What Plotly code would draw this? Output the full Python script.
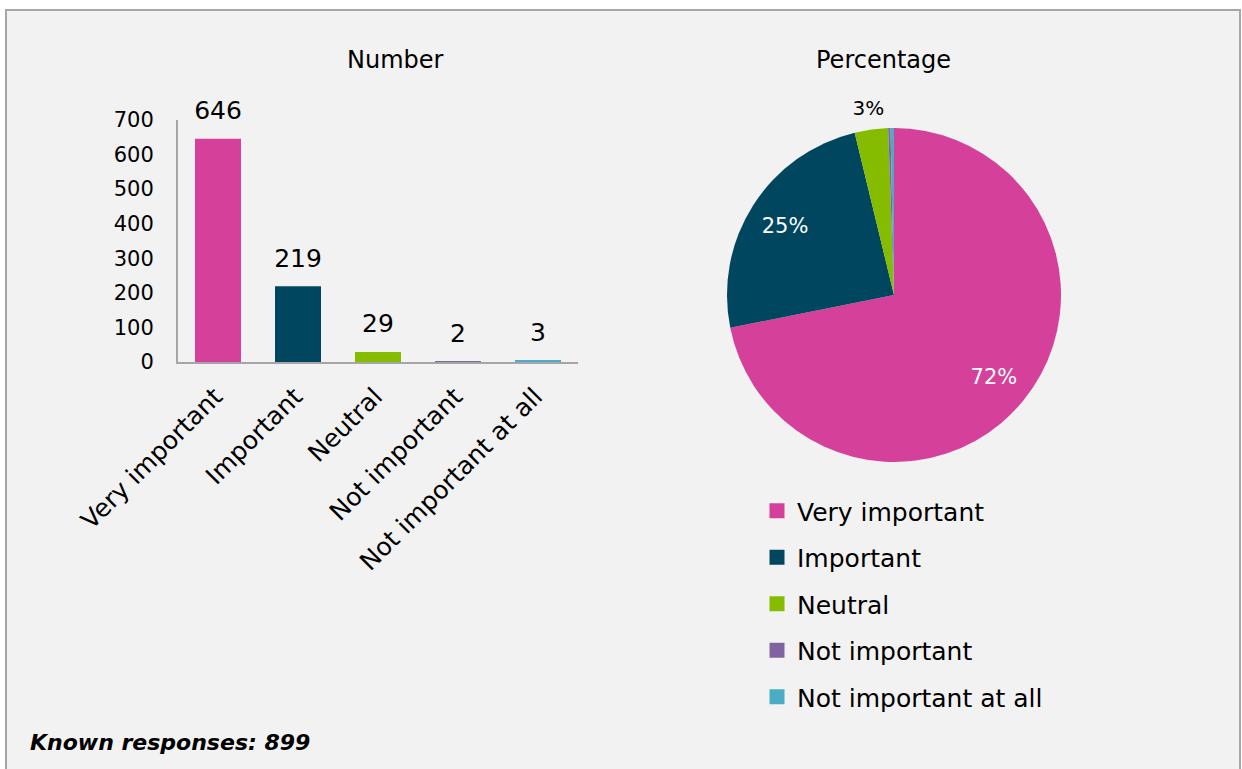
import plotly.graph_objects as go

categories = ["Very important", "Important", "Neutral", "Not important", "Not important at all"]
counts = [646, 219, 29, 2, 3]
colors = ["#D4409A", "#00465F", "#85BC00", "#8064A2", "#4BACC6"]
pie_inside_text = ["72%", "25%", "", "", ""]
pie_outside_text = ["", "", "3%", "", ""]
y_ticks = [0, 100, 200, 300, 400, 500, 600, 700]

W, H = 1242, 769
FONT = "DejaVu Sans"
CLEAR = ["rgba(0,0,0,0)"] * len(categories)

fig = go.Figure()

fig.add_trace(go.Bar(
    x=categories, y=counts, marker_color=colors, width=0.575,
    cliponaxis=False, showlegend=False, hoverinfo="x+y",
))

# value labels above bars
fig.add_trace(go.Scatter(
    x=categories, y=counts, mode="markers+text", text=[str(v) for v in counts],
    textposition="top center", textfont=dict(size=25, color="black", family=FONT),
    marker=dict(size=20, opacity=0), cliponaxis=False, showlegend=False, hoverinfo="skip",
))

# filled pie
fig.add_trace(go.Pie(
    labels=categories, values=counts, marker=dict(colors=colors, line=dict(width=0)),
    sort=False, direction="clockwise", rotation=0, textinfo="none",
    domain=dict(x=[727 / W, 1061 / W], y=[1 - 462 / H, 1 - 128 / H]),
    showlegend=False, automargin=False,
))

# transparent ring carrying the inside percentage labels
fig.add_trace(go.Pie(
    labels=categories, values=counts, hole=0.46,
    marker=dict(colors=CLEAR, line=dict(width=0)),
    sort=False, direction="clockwise", rotation=0,
    text=pie_inside_text, texttemplate="%{text}", textposition="inside",
    insidetextfont=dict(size=21, color="white", family=FONT),
    domain=dict(x=[717 / W, 1071 / W], y=[1 - 472 / H, 1 - 118 / H]),
    showlegend=False, insidetextorientation="horizontal", automargin=False,
    hoverinfo="skip",
))

# transparent pie carrying the small outside label
fig.add_trace(go.Pie(
    labels=categories, values=counts, hole=0.9,
    marker=dict(colors=CLEAR, line=dict(width=0)),
    sort=False, direction="clockwise", rotation=6.6,
    text=pie_outside_text, texttemplate="%{text}", textposition="outside",
    outsidetextfont=dict(size=20, color="black", family=FONT),
    domain=dict(x=[719 / W, 1069 / W], y=[1 - 470 / H, 1 - 120 / H]),
    showlegend=False, automargin=False, hoverinfo="skip",
))

# legend entries
for c, col in zip(categories, colors):
    fig.add_trace(go.Scatter(
        x=[None], y=[None], mode="markers", name=c, legendgroup=c,
        marker=dict(symbol="square", size=15, color=col),
    ))

fig.update_layout(
    template="none",
    width=W, height=H,
    margin=dict(l=0, r=0, t=0, b=0, autoexpand=False),
    paper_bgcolor="white", plot_bgcolor="rgba(0,0,0,0)",
    font=dict(family=FONT, color="black"),
    xaxis=dict(domain=[178 / W, 578 / W], showline=True, linecolor="#A6A6A6", linewidth=2,
               tickangle=-45, tickfont=dict(size=25), showgrid=False, ticks="",
               automargin=False, zeroline=False, ticklabelshift=-3, ticklabelstandoff=8,
               categoryorder="array", categoryarray=categories),
    yaxis=dict(domain=[1 - 362 / H, 1 - 120 / H], range=[0, 700], showline=True,
               linecolor="#A6A6A6", linewidth=2, showgrid=False, zeroline=False,
               automargin=False,
               tickvals=y_ticks, tickfont=dict(size=21), ticks="", ticklabelstandoff=18),
    legend=dict(x=757 / W, y=1 - 488 / H, xanchor="left", yanchor="top",
                font=dict(size=25), tracegroupgap=11, bgcolor="rgba(0,0,0,0)",
                itemclick=False),
    showlegend=True,
    shapes=[dict(type="rect", xref="paper", yref="paper", x0=6 / W, x1=1240 / W,
                 y0=-0.02, y1=1 - 10 / H, fillcolor="#F2F2F2",
                 line=dict(color="#A6A6A6", width=2), layer="below")],
    annotations=[
        dict(text="Number", x=395 / W, y=1 - 60 / H, xref="paper", yref="paper",
             showarrow=False, font=dict(size=24), xanchor="center", yanchor="middle"),
        dict(text="Percentage", x=883 / W, y=1 - 60 / H, xref="paper", yref="paper",
             showarrow=False, font=dict(size=24), xanchor="center", yanchor="middle"),
        dict(text="<b><i>Known responses: 899</i></b>", x=28 / W, y=1 - 742 / H,
             xref="paper", yref="paper", showarrow=False, font=dict(size=22),
             xanchor="left", yanchor="middle"),
    ],
)

fig.write_html("out.html")
